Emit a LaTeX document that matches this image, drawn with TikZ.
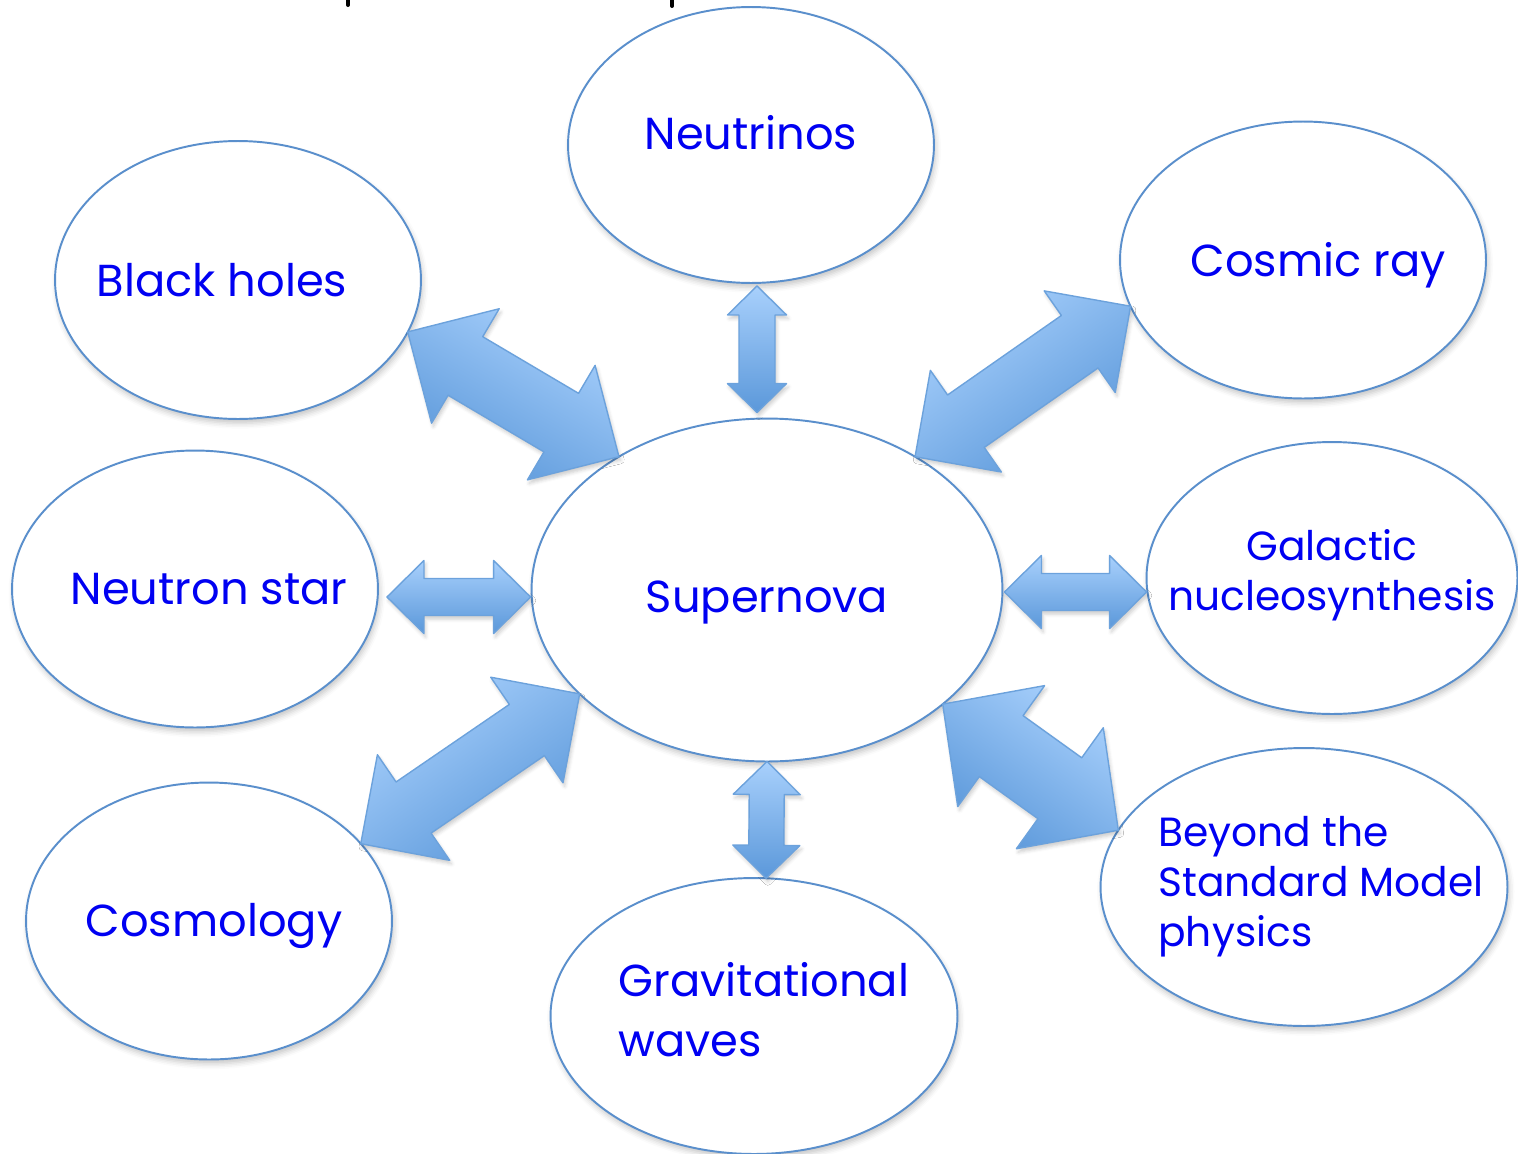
\documentclass[tikz,border=0pt]{standalone}
\usepackage{fontspec}
\setmainfont{Poppins}
\usetikzlibrary{positioning, calc, shapes.geometric, shadows.blur}
\definecolor{rimblue}{HTML}{5A8FCC}
\definecolor{inkblue}{HTML}{0000F2}
\definecolor{shaftlight}{HTML}{A8D0FC}
\definecolor{shaftdark}{HTML}{5B98DA}
\definecolor{shaftedge}{HTML}{6CA2DC}

% block arrow between two border points:
% #1,#2 ends, #3 half head width, #4 half shaft width, #5 head length, #6 shading angle
\newcommand{\bigarrow}[6]{%
  \draw[twoway, shading angle=#6]
    (#1) -- ($(#1)!#5!(#2)!#3!90:(#2)$) -- ($(#1)!#5!(#2)!#4!90:(#2)$)
    -- ($(#2)!#5!(#1)!#4!-90:(#1)$) -- ($(#2)!#5!(#1)!#3!-90:(#1)$)
    -- (#2) -- ($(#2)!#5!(#1)!#3!90:(#1)$) -- ($(#2)!#5!(#1)!#4!90:(#1)$)
    -- ($(#1)!#5!(#2)!#4!-90:(#2)$) -- ($(#1)!#5!(#2)!#3!-90:(#2)$) -- cycle;
}

\begin{document}
\begin{tikzpicture}[
  x=0.02cm, y=-0.02cm,
  topic/.style={ellipse, draw=rimblue, fill=white, line width=1.1pt,
    minimum width=7.32cm, minimum height=5.54cm, inner sep=0pt, outer sep=0pt,
    blur shadow={shadow xshift=1pt, shadow yshift=-2.5pt, shadow blur radius=3pt, shadow opacity=22}},
  words/.style={text=inkblue, font=\fontsize{25.5}{32}\selectfont, align=center},
  smallwords/.style={words, font=\fontsize{23.2}{28.5}\selectfont},
  twoway/.style={draw=shaftedge, line width=0.8pt, top color=shaftlight, bottom color=shaftdark,
    line join=round,
    blur shadow={shadow xshift=1pt, shadow yshift=-2pt, shadow blur radius=2pt, shadow opacity=20}}
]
\useasboundingbox (0,0) rectangle (1518,1153);

% cut-off title descenders
\draw[line width=0.08cm, line cap=round] (348,-2) -- (348,5);
\draw[line width=0.08cm, line cap=round] (672,-2) -- (672,6);

% Centre node: Supernova
\node[topic, minimum width=9.42cm, minimum height=6.86cm,
  label={[words, yshift=-0.26cm]center:Supernova}] (sn) at (767,590) {};

% Surrounding topics
\node[topic, minimum height=5.52cm,
  label={[words, yshift=0.24cm]center:Neutrinos}] (nu) at (751,145) {};
\node[topic, minimum height=5.56cm,
  label={[words, xshift=-0.32cm]center:Black holes}] (bh) at (238,280) {};
\node[topic,
  label={[words, xshift=0.30cm, yshift=-0.1cm]center:Cosmic ray}] (cr) at (1303,260) {};
\node[topic,
  label={[words, xshift=0.28cm]center:Neutron star}] (ns) at (195,589) {};
\node[topic, minimum width=7.42cm, minimum height=5.44cm,
  label={[smallwords, yshift=0.05cm]center:Galactic\\nucleosynthesis}] (gn) at (1332,578) {};
\node[topic,
  label={[words, xshift=0.10cm, yshift=-0.1cm]center:Cosmology}] (cm) at (209,921) {};
\node[topic, minimum width=8.14cm, minimum height=5.52cm,
  label={[words, align=left, xshift=0.2cm, yshift=0.12cm, font=\fontsize{25.5}{34}\selectfont]center:Gravitational\\waves}] (gw) at (754,1016) {};
\node[topic, minimum width=8.14cm, minimum height=5.56cm,
  label={[smallwords, align=left, xshift=0.34cm]center:Beyond the\\Standard Model\\physics}] (bsm) at (1304,887) {};

% arrow ends that stop short of a rim
\coordinate (nu-tip) at ($(nu.south)+(6,3)$);
\coordinate (sn-top) at ($(sn.north)+(-10,-6)$);
\coordinate (ns-tip) at ($(ns.east)+(9,8)$);
\coordinate (sn-left) at ($(sn.west)+(-1,7)$);
\coordinate (sn-right) at ($(sn.east)+(2,2)$);
\coordinate (gn-tip) at ($(gn.west)+(0,14)$);

% Arrows
\bigarrow{bh.-17}{sn.138}{1.33cm}{0.68cm}{1.34cm}{-30}
\bigarrow{nu-tip}{sn-top}{0.59cm}{0.36cm}{0.58cm}{0}
\bigarrow{sn.42}{cr.195}{1.24cm}{0.64cm}{1.24cm}{35}
\bigarrow{ns-tip}{sn-left}{0.73cm}{0.37cm}{0.74cm}{0}
\bigarrow{sn-right}{gn-tip}{0.73cm}{0.37cm}{0.74cm}{0}
\bigarrow{cm.27}{sn.209}{1.28cm}{0.62cm}{1.28cm}{35}
\bigarrow{sn.south}{gw.85}{0.67cm}{0.35cm}{0.66cm}{0}
\bigarrow{sn.-33}{bsm.163}{1.49cm}{0.75cm}{1.44cm}{-35}

\end{tikzpicture}
\end{document}
